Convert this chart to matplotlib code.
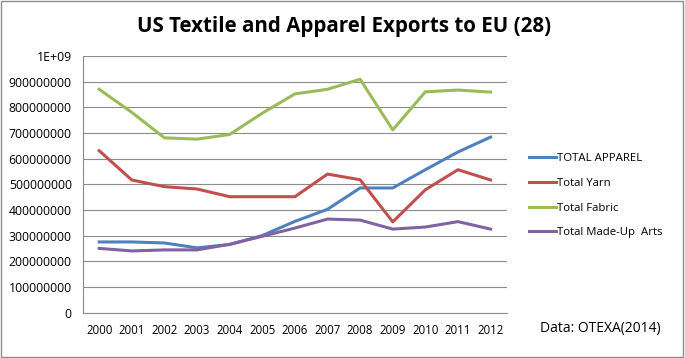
import matplotlib.pyplot as plt
from matplotlib.patches import Rectangle
import numpy as np

# Data
years = ['2000', '2001', '2002', '2003', '2004', '2005', '2006',
         '2007', '2008', '2009', '2010', '2011', '2012']
apparel = [276e6, 276e6, 272e6, 253e6, 266e6, 301e6, 356e6, 403e6, 486e6, 486e6, 557e6, 626e6, 684e6]
yarn = [631e6, 517e6, 491e6, 482e6, 452e6, 452e6, 452e6, 540e6, 518e6, 354e6, 479e6, 557e6, 517e6]
fabric = [870e6, 780e6, 681e6, 676e6, 694e6, 777e6, 852e6, 870e6, 909e6, 712e6, 860e6, 867e6, 859e6]
madeup = [251e6, 241e6, 245e6, 245e6, 267e6, 298e6, 330e6, 365e6, 361e6, 326e6, 334e6, 355e6, 326e6]
yticks = [0, 1e8, 2e8, 3e8, 4e8, 5e8, 6e8, 7e8, 8e8, 9e8, 1e9]
ytick_labels = ['0', '100000000', '200000000', '300000000', '400000000', '500000000',
                '600000000', '700000000', '800000000', '900000000', '1E+09']

plt.rcParams['font.family'] = ['Open Sans', 'DejaVu Sans']

# Layout
fig = plt.figure(figsize=(6.85, 3.58), dpi=100)
ax = fig.add_axes([0.121, 0.126, 0.619, 0.718])

# Plot
x = np.arange(len(years))
ax.plot(x, apparel, c='#4F81BD', lw=2.2, label='TOTAL APPAREL')
ax.plot(x, yarn, c='#C0504D', lw=2.2, label='Total Yarn')
ax.plot(x, fabric, c='#9BBB59', lw=2.2, label='Total Fabric')
ax.plot(x, madeup, c='#8064A2', lw=2.2, label='Total Made-Up  Arts')

# Details
ax.set_xlim(-0.5, len(years) - 0.5)
ax.set_ylim(0, 1e9)
ax.set_xticks(x)
ax.set_xticklabels(years, fontsize=8.3)
ax.set_yticks(yticks)
ax.set_yticklabels(ytick_labels, fontsize=8.8)
ax.tick_params(axis='x', length=0, pad=8)
ax.tick_params(axis='y', length=0, pad=8)
ax.grid(axis='y', color='#8c8c8c', lw=0.8)
ax.set_axisbelow(True)
for s in ['top', 'right']:
    ax.spines[s].set_visible(False)
for s in ['left', 'bottom']:
    ax.spines[s].set_color('#8c8c8c')

fig.text(0.503, 0.925, 'US Textile and Apparel Exports to EU (28)',
         ha='center', va='center', fontsize=14.8, fontweight='bold')
fig.legend(loc='upper left', bbox_to_anchor=(0.757, 0.6), frameon=False,
           fontsize=8.2, handlelength=2.4, handletextpad=0.1, labelspacing=1.2)
fig.text(0.788, 0.083, 'Data: OTEXA(2014)', ha='left', va='center', fontsize=10)
fig.add_artist(Rectangle((0.002, 0.003), 0.995, 0.993, transform=fig.transFigure,
                         fill=False, edgecolor='#8c8c8c', lw=1))

# Save
fig.savefig('out.png', dpi=100)
